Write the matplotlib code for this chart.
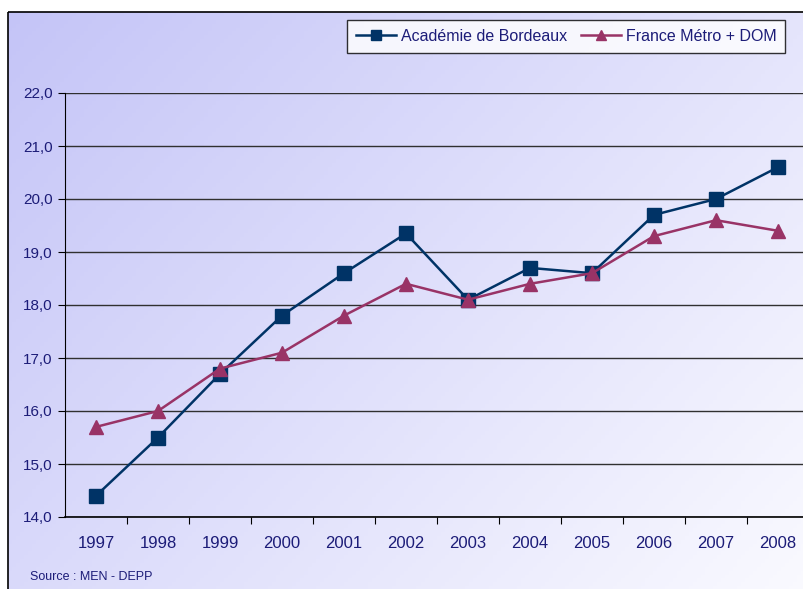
import matplotlib.pyplot as plt
import numpy as np
from matplotlib.patches import Rectangle

years = ['1997', '1998', '1999', '2000', '2001', '2002', '2003', '2004', '2005', '2006', '2007', '2008']
bordeaux = [14.4, 15.5, 16.7, 17.8, 18.6, 19.35, 18.1, 18.7, 18.6, 19.7, 20.0, 20.6]
france = [15.7, 16.0, 16.8, 17.1, 17.8, 18.4, 18.1, 18.4, 18.6, 19.3, 19.6, 19.4]
yticks = [14, 15, 16, 17, 18, 19, 20, 21, 22]

navy_txt = '#1c1c78'
plt.rcParams['font.family'] = ['Liberation Sans', 'DejaVu Sans']

W, H = 804, 589
fig = plt.figure(figsize=(W / 100, H / 100), dpi=100)

# background gradient panel
bg = fig.add_axes([0, 0, 1, 1])
bg.set_xlim(0, W)
bg.set_ylim(H, 0)
bg.axis('off')
xx, yy = np.meshgrid(np.linspace(0, 1, 200), np.linspace(0, 1, 150))
t = np.clip((xx * 0.6 + yy * 0.4), 0, 1)
c0 = np.array([0.77, 0.77, 0.97])
c1 = np.array([0.98, 0.98, 1.0])
img = c0 + (c1 - c0) * t[..., None]
bg.imshow(img, extent=[8, W + 5, H + 5, 12], aspect='auto', zorder=0)
bg.add_patch(Rectangle((8, 12), W, H, fill=False, edgecolor='black', lw=1.2, zorder=1))
bg.text(30, 577, 'Source : MEN - DEPP', fontsize=9, color=navy_txt, va='center')

# plot area: left 65, right 809, top 93, bottom 517
ax = fig.add_axes([65 / W, 1 - 517 / H, (809 - 65) / W, (517 - 93) / H])
ax.patch.set_alpha(0)
x = np.arange(len(years))
ax.plot(x, bordeaux, color='#003366', lw=1.8, marker='s', ms=9.5, label='Académie de Bordeaux', zorder=3)
ax.plot(x, france, color='#993366', lw=1.8, marker='^', ms=10.5, label='France Métro + DOM', zorder=3)

ax.set_xlim(-0.5, 11.5)
ax.set_ylim(14, 22)
ax.set_yticks(yticks)
ax.set_yticklabels([f'{v},0' for v in yticks], fontsize=11, color=navy_txt)
ax.yaxis.grid(True, color='#303030', lw=1)
ax.set_axisbelow(True)

ax.set_xticks(np.arange(0.5, 11, 1))
ax.set_xticklabels([])
ax.set_xticks(x, minor=True)
ax.set_xticklabels(years, minor=True, fontsize=12, color=navy_txt)
ax.tick_params(axis='x', which='minor', length=0, pad=14)
ax.tick_params(axis='x', which='major', length=5, color='black')
ax.tick_params(axis='y', length=5, color='black', pad=4)

for s in ['top', 'right']:
    ax.spines[s].set_visible(False)
ax.spines['left'].set_color('black')
ax.spines['bottom'].set_color('black')
ax.spines['bottom'].set_linewidth(1.2)

leg = fig.legend(loc='upper left', bbox_to_anchor=(347 / W, 1 - 20 / H), ncol=2,
                 fontsize=11.5, frameon=True, fancybox=False, edgecolor='black',
                 handlelength=2.5, columnspacing=0.9, borderpad=0.55, handletextpad=0.3,
                 markerscale=0.7, borderaxespad=0)
leg.get_frame().set_linewidth(1.0)
for txt in leg.get_texts():
    txt.set_color(navy_txt)

fig.savefig('out.png', dpi=100)
